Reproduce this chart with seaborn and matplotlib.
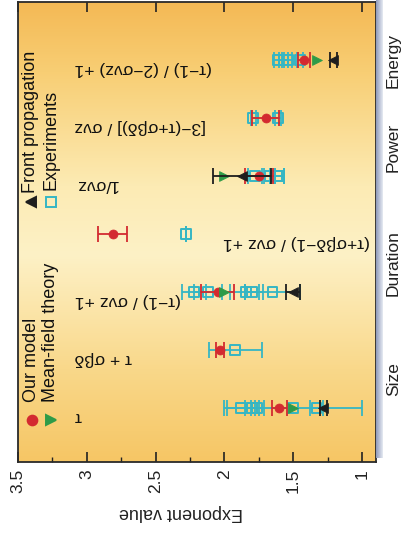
import numpy as np
import matplotlib
matplotlib.use("Agg")
import matplotlib.pyplot as plt
from matplotlib.ticker import MultipleLocator
from matplotlib.colors import to_rgb
import seaborn as sns

# the published figure is turned on its side: exponent value runs right to left,
# the rows (one per scaling relation) run bottom to top
formulas = ["τ", "τ + σβδ", "(τ−1) / σνz +1", "(τ+σβδ−1) / σνz +1",
            "1/σνz", "[3−(τ+σβδ)] / σνz", "(τ−1) / (2−σνz) +1"]
categories = ["Size", "Duration", "Power", "Energy"]
category_rows = [0.5, 2.5, 4.5, 6]

model_rows = [0, 1, 2, 3, 4, 5, 6]
model_vals = [1.60, 2.03, 2.05, 2.81, 1.75, 1.70, 1.42]
model_errs = [0.055, 0.03, 0.12, 0.105, 0.10, 0.10, 0.045]

mf_rows = [0, 2, 4, 6]
mf_vals = [1.50, 2.00, 2.00, 1.33]

front_rows = [0, 2, 4, 6]
front_vals = [1.28, 1.50, 1.87, 1.21]
front_errs = [0.025, 0.05, 0.21, 0.025]

exp_rows = [0, 0, 0, 0, 0, 1, 2, 2, 2, 2, 2, 3, 4, 4, 4, 4, 5, 5, 6, 6, 6, 6]
exp_vals = [1.88, 1.80, 1.76, 1.50, 1.33, 1.92, 2.22, 2.12, 1.84, 1.80, 1.65, 2.28,
            1.78, 1.67, 1.62, 1.60, 1.79, 1.61, 1.61, 1.57, 1.54, 1.45]
exp_errs = [0.10, 0.05, 0.05, 0.50, 0.05, 0.19, 0.09, 0.10, 0.12, 0.05, 0.20, 0.0,
            0.05, 0.04, 0.05, 0.03, 0.02, 0.02, 0.03, 0.03, 0.03, 0.02]

RED = "#D32A30"
GREEN = "#2E9B48"
BLACK = "#1E1E1E"
CYAN = "#35B6C4"

sns.set_style("white")
plt.rcParams["font.family"] = ["Liberation Sans", "DejaVu Sans"]

fig = plt.figure(figsize=(4.02, 5.35), dpi=100)
ax = fig.add_axes([18 / 402, 73 / 535, 358 / 402, 460 / 535])

# background gradient of the panel
stops_y = [0.0, 0.2, 0.45, 0.6, 0.85, 1.0]
stop_cols = ["#F6C665", "#F9D88A", "#FDF1C6", "#FCEBB4", "#F8CE74", "#F4B955"]
yy = np.linspace(0, 1, 256)
rgb = np.array([np.interp(yy, stops_y, [to_rgb(c)[k] for c in stop_cols]) for k in range(3)]).T
img = np.repeat(rgb[:, None, :], 8, axis=1)
ax.imshow(img, extent=[0, 1, 0, 1], transform=ax.transAxes, origin="lower",
          aspect="auto", zorder=-10)

# drop shadow on the right side of the panel
sh = fig.add_axes([376 / 402, 77 / 535, 7 / 402, 458 / 535])
shade = np.linspace(0, 1, 32)
sh_rgb = np.array([np.interp(shade, [0, 1], [to_rgb("#8E9ABA")[k], to_rgb("#E6EAF2")[k]]) for k in range(3)]).T
sh.imshow(sh_rgb[None, :, :], aspect="auto")
sh.axis("off")

# error bars
ax.errorbar(exp_vals, exp_rows, xerr=exp_errs, fmt="none", ecolor=CYAN,
            elinewidth=1.3, capsize=6, capthick=1.3, zorder=3)
ax.errorbar(model_vals, model_rows, xerr=model_errs, fmt="none", ecolor=RED,
            elinewidth=1.3, capsize=6, capthick=1.3, zorder=4)
ax.errorbar(front_vals, front_rows, xerr=front_errs, fmt="none", ecolor=BLACK,
            elinewidth=1.3, capsize=6, capthick=1.3, zorder=6)

# markers
sns.scatterplot(x=exp_vals, y=exp_rows, marker="s", color=CYAN, s=50,
                linewidth=1.4, ax=ax, zorder=3)
ax.collections[-1].set_facecolor("none")
ax.collections[-1].set_edgecolor(CYAN)
sns.scatterplot(x=model_vals, y=model_rows, marker="o", color=RED, s=42,
                edgecolor=RED, ax=ax, zorder=4)
sns.scatterplot(x=mf_vals, y=mf_rows, marker=">", color=GREEN, s=50,
                edgecolor=GREEN, ax=ax, zorder=5)
sns.scatterplot(x=front_vals, y=front_rows, marker="<", color=BLACK, s=50,
                edgecolor=BLACK, ax=ax, zorder=6)

# scaling relations written next to each row
for i, f in enumerate(formulas):
    tx = 2.01 if i == 3 else 3.09
    ax.text(tx, i - 0.15, f, rotation=180, ha="left", va="center",
            fontsize=12.5, color="#111111")

# hand-made legend, turned like the rest of the figure
def legend_entry(mx, my, marker, color, label, ty, filled=True):
    ax.plot([mx], [my], marker=marker, ms=7, color=color,
            mfc=color if filled else "none", mew=1.4, ls="none",
            transform=ax.transAxes, clip_on=False, zorder=7)
    ax.text(mx, ty, label, rotation=90, ha="center", va="bottom", fontsize=13,
            transform=ax.transAxes, color="#111111")

legend_entry(0.039, 0.091, "o", RED, "Our model", 0.130)
legend_entry(0.091, 0.091, ">", GREEN, "Mean-field theory", 0.130)
legend_entry(0.036, 0.565, "<", BLACK, "Front propagation", 0.585)
legend_entry(0.091, 0.565, "s", CYAN, "Experiments", 0.591, filled=False)

ax.set_xlim(3.5, 0.898)
ax.set_ylim(-0.93, 7.0)
ax.set_xticks([3.5, 3, 2.5, 2, 1.5, 1], ["3.5", "3", "2.5", "2", "1.5", "1"])
ax.xaxis.set_minor_locator(MultipleLocator(0.25))
ax.tick_params(axis="x", which="major", direction="in", length=7, width=1.2,
               top=True, bottom=True, labelrotation=90, labelsize=12.5, pad=5,
               colors="#222222")
ax.tick_params(axis="x", which="minor", direction="in", length=3.5, width=1.0,
               top=False, bottom=True, colors="#222222")
ax.set_yticks(category_rows, categories)
ax.yaxis.tick_right()
ax.tick_params(axis="y", length=0, labelrotation=90, labelsize=12.5, pad=7,
               colors="#222222")
for lab in ax.get_yticklabels():
    lab.set_va("center")
ax.set_xlabel("")
ax.set_ylabel("")
for sp in ax.spines.values():
    sp.set_color("#2A2A2A")
    sp.set_linewidth(1.3)
    sp.set_visible(True)

fig.text(181 / 402, 1 - 513 / 535, "Exponent value", rotation=180,
         ha="center", va="center", fontsize=13, color="#222222")

fig.savefig("out.png", dpi=100)
